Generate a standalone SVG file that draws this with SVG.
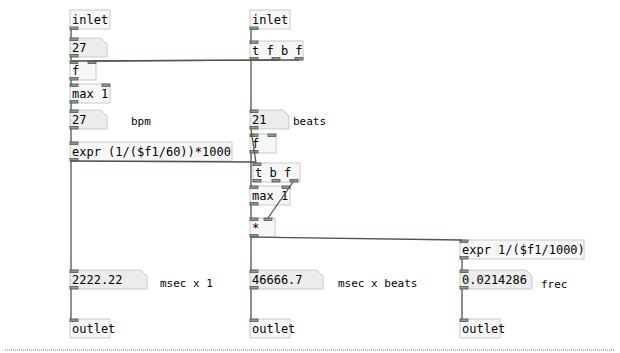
<svg xmlns="http://www.w3.org/2000/svg" width="620" height="353" viewBox="0 0 620 353">
<style>
.bg{fill:#ffffff}
.box{fill:#f7f7f7;stroke:#c9c9c9;stroke-width:1}
.num{fill:#ececec;stroke:#c9c9c9;stroke-width:1}
.port{fill:#8e9c8e;stroke:#4d5b4d;stroke-width:0.8}
.t{font-family:"DejaVu Sans Mono","Liberation Mono",monospace;font-size:12px;fill:#000}
.lbl{font-family:"DejaVu Sans Mono","Liberation Mono",monospace;font-size:11px;fill:#000}
.wire line{stroke:#4a584a;stroke-width:1.3}
</style>
<rect class="bg" x="0" y="0" width="620" height="353"/>

<!-- left column -->
<g id="inlet_bpm">
  <rect class="box" x="70" y="10" width="40" height="19"/>
  <text class="t" x="72" y="24">inlet</text>
  <rect class="port" x="70" y="27" width="8" height="2.5"/>
</g>
<g id="num_27a">
  <path class="num" d="M70,38 h31 l6,6 v13 h-37 z"/>
  <text class="t" x="72" y="52">27</text>
  <rect class="port" x="70" y="38" width="8" height="2.5"/>
  <rect class="port" x="70" y="54.5" width="8" height="2.5"/>
</g>
<g id="f_left">
  <rect class="box" x="70" y="61" width="26" height="19"/>
  <text class="t" x="72" y="75">f</text>
  <rect class="port" x="70" y="61" width="8" height="2.5"/>
  <rect class="port" x="88" y="61" width="8" height="2.5"/>
  <rect class="port" x="70" y="77.5" width="8" height="2.5"/>
</g>
<g id="max_left">
  <rect class="box" x="70" y="84" width="40" height="19"/>
  <text class="t" x="72" y="98">max 1</text>
  <rect class="port" x="70" y="84" width="8" height="2.5"/>
  <rect class="port" x="102" y="84" width="8" height="2.5"/>
  <rect class="port" x="70" y="100.5" width="8" height="2.5"/>
</g>
<g id="num_bpm">
  <path class="num" d="M70,110 h31 l6,6 v13 h-37 z"/>
  <text class="t" x="72" y="124">27</text>
  <rect class="port" x="70" y="110" width="8" height="2.5"/>
  <rect class="port" x="70" y="126.5" width="8" height="2.5"/>
  <text class="lbl" x="131" y="125">bpm</text>
</g>
<g id="expr_ms">
  <rect class="box" x="70" y="142" width="162" height="19"/>
  <text class="t" x="72" y="156">expr (1/($f1/60))*1000</text>
  <rect class="port" x="70" y="142" width="8" height="2.5"/>
  <rect class="port" x="70" y="158.5" width="8" height="2.5"/>
</g>
<g id="num_ms">
  <path class="num" d="M70,270 h71 l6,6 v13 h-77 z"/>
  <text class="t" x="72" y="284">2222.22</text>
  <rect class="port" x="70" y="270" width="8" height="2.5"/>
  <rect class="port" x="70" y="286.5" width="8" height="2.5"/>
  <text class="lbl" x="160" y="287">msec x 1</text>
</g>
<g id="outlet_left">
  <rect class="box" x="70" y="319" width="40" height="19"/>
  <text class="t" x="72" y="333">outlet</text>
  <rect class="port" x="70" y="319" width="8" height="2.5"/>
</g>

<!-- middle column -->
<g id="inlet_beats">
  <rect class="box" x="250" y="10" width="40" height="19"/>
  <text class="t" x="252" y="24">inlet</text>
  <rect class="port" x="250" y="27" width="8" height="2.5"/>
</g>
<g id="t_fbf">
  <rect class="box" x="250" y="41" width="53" height="19"/>
  <text class="t" x="252" y="55">t f b f</text>
  <rect class="port" x="250" y="41" width="8" height="2.5"/>
  <rect class="port" x="250" y="57.5" width="8" height="2.5"/>
  <rect class="port" x="272" y="57.5" width="8" height="2.5"/>
  <rect class="port" x="295" y="57.5" width="8" height="2.5"/>
</g>
<g id="num_beats">
  <path class="num" d="M250,110 h33 l6,6 v13 h-39 z"/>
  <text class="t" x="252" y="124">21</text>
  <rect class="port" x="250" y="110" width="8" height="2.5"/>
  <rect class="port" x="250" y="126.5" width="8" height="2.5"/>
  <text class="lbl" x="293" y="125">beats</text>
</g>
<g id="f_mid">
  <rect class="box" x="250" y="134" width="26" height="19"/>
  <text class="t" x="252" y="148">f</text>
  <rect class="port" x="250" y="134" width="8" height="2.5"/>
  <rect class="port" x="268" y="134" width="8" height="2.5"/>
  <rect class="port" x="250" y="150.5" width="8" height="2.5"/>
</g>
<g id="t_bf">
  <rect class="box" x="253" y="163" width="47" height="19"/>
  <text class="t" x="255" y="177">t b f</text>
  <rect class="port" x="253" y="163" width="8" height="2.5"/>
  <rect class="port" x="253" y="179.5" width="8" height="2.5"/>
  <rect class="port" x="272" y="179.5" width="8" height="2.5"/>
  <rect class="port" x="290" y="179.5" width="8" height="2.5"/>
</g>
<g id="max_mid">
  <rect class="box" x="250" y="186" width="40" height="19"/>
  <text class="t" x="252" y="200">max 1</text>
  <rect class="port" x="250" y="186" width="8" height="2.5"/>
  <rect class="port" x="282" y="186" width="8" height="2.5"/>
  <rect class="port" x="250" y="202.5" width="8" height="2.5"/>
</g>
<g id="mul">
  <rect class="box" x="250" y="218" width="25" height="19"/>
  <text class="t" x="252" y="232">*</text>
  <rect class="port" x="250" y="218" width="8" height="2.5"/>
  <rect class="port" x="264" y="218" width="8" height="2.5"/>
  <rect class="port" x="250" y="234.5" width="8" height="2.5"/>
</g>
<g id="num_total">
  <path class="num" d="M250,270 h67 l6,6 v13 h-73 z"/>
  <text class="t" x="252" y="284">46666.7</text>
  <rect class="port" x="250" y="270" width="8" height="2.5"/>
  <rect class="port" x="250" y="286.5" width="8" height="2.5"/>
  <text class="lbl" x="338" y="287">msec x beats</text>
</g>
<g id="outlet_mid">
  <rect class="box" x="250" y="319" width="40" height="19"/>
  <text class="t" x="252" y="333">outlet</text>
  <rect class="port" x="250" y="319" width="8" height="2.5"/>
</g>

<!-- right column -->
<g id="expr_freq">
  <rect class="box" x="460" y="240" width="124" height="19"/>
  <text class="t" x="462" y="254">expr 1/($f1/1000)</text>
  <rect class="port" x="460" y="240" width="8" height="2.5"/>
  <rect class="port" x="460" y="256.5" width="8" height="2.5"/>
</g>
<g id="num_freq">
  <path class="num" d="M460,270 h66 l6,6 v13 h-72 z"/>
  <text class="t" x="462" y="284">0.0214286</text>
  <rect class="port" x="460" y="270" width="8" height="2.5"/>
  <rect class="port" x="460" y="286.5" width="8" height="2.5"/>
  <text class="lbl" x="541" y="288">frec</text>
</g>
<g id="outlet_right">
  <rect class="box" x="460" y="319" width="40" height="19"/>
  <text class="t" x="462" y="333">outlet</text>
  <rect class="port" x="460" y="319" width="8" height="2.5"/>
</g>

<g id="connectors" class="wire">
  <line x1="71" y1="29" x2="71" y2="38"/>
  <line x1="71" y1="57" x2="71" y2="61"/>
  <line x1="71" y1="80" x2="71" y2="84"/>
  <line x1="71" y1="103" x2="71" y2="110"/>
  <line x1="71" y1="129" x2="71" y2="142"/>
  <line x1="299" y1="60" x2="92" y2="61"/>
  <line x1="276" y1="60" x2="71" y2="61"/>
  <line x1="251" y1="29" x2="251" y2="41"/>
  <line x1="251" y1="60" x2="251" y2="110"/>
  <line x1="251" y1="129" x2="256" y2="163"/>
  <line x1="251" y1="153" x2="251" y2="186"/>
  <line x1="71" y1="161" x2="256" y2="162"/>
  <line x1="251" y1="205" x2="251" y2="218"/>
  <line x1="293" y1="182" x2="268" y2="218"/>
  <line x1="251" y1="237" x2="251" y2="270"/>
  <line x1="251" y1="237" x2="462" y2="240"/>
  <line x1="251" y1="289" x2="251" y2="319"/>
  <line x1="71" y1="161" x2="71" y2="270"/>
  <line x1="71" y1="289" x2="71" y2="319"/>
  <line x1="462" y1="259" x2="462" y2="270"/>
  <line x1="462" y1="289" x2="462" y2="319"/>
</g>

<line x1="5" y1="350" x2="615" y2="350" stroke="#777" stroke-width="1" stroke-dasharray="1,1"/>
</svg>
